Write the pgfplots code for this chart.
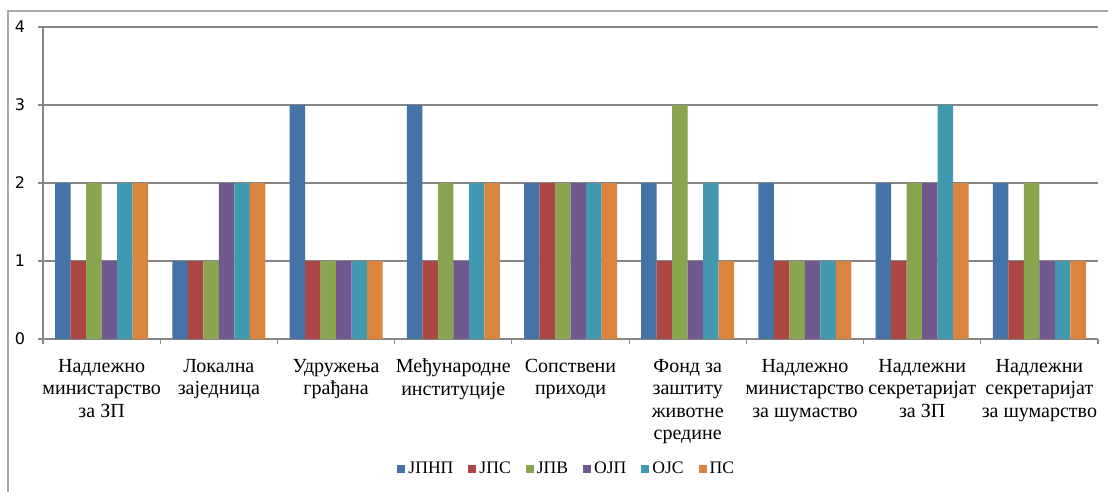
\documentclass[border=0pt]{standalone}
\usepackage{fontspec}
\setmainfont{Liberation Serif}
\newfontfamily\tickfont{DejaVu Sans}
\usepackage{pgfplots}
\pgfplotsset{compat=1.18}
\definecolor{c1}{HTML}{4572A7}
\definecolor{c2}{HTML}{AA4643}
\definecolor{c3}{HTML}{89A54E}
\definecolor{c4}{HTML}{71588F}
\definecolor{c5}{HTML}{4198AF}
\definecolor{c6}{HTML}{DB843D}
\definecolor{gridc}{HTML}{868686}
\begin{document}
\begin{tikzpicture}
\useasboundingbox (0,0) rectangle (554pt,-246pt);
\draw[gridc!70, line width=0.6pt] (4pt,-5.5pt) rectangle (600pt,-300pt);
\begin{axis}[
  at={(21.5pt,-169.5pt)}, anchor=south west,
  width=527.5pt, height=156pt, scale only axis,
  ybar=0pt, bar width=7.75pt,
  xmin=0.5, xmax=9.5, ymin=0, ymax=4,
  ytick={0,1,2,3,4},
  ymajorgrids, grid style={gridc, line width=0.6pt},
  axis x line*=bottom, axis y line*=left,
  axis line style={gridc, line width=0.6pt, -},
  tick style={gridc, line width=0.6pt},
  tick align=outside, major tick length=2.5pt, minor tick length=2.5pt,
  xtick={1,...,9},
  major x tick style={draw=none},
  minor xtick={0.5,1.5,...,9.5},
  xticklabels={
    {Надлежно\\министарство\\за ЗП},
    {Локална\\заједница},
    {Удружења\\грађана},
    {Међународне\\институције},
    {Сопствени\\приходи},
    {Фонд за\\заштиту\\животне\\средине},
    {Надлежно\\министарство\\за шумаство},
    {Надлежни\\секретаријат\\за ЗП},
    {Надлежни\\секретаријат\\за шумарство}},
  xticklabel style={align=center, font=\rmfamily\fontsize{10}{11.3}\selectfont, yshift=-4pt},
  yticklabel style={font=\tickfont\fontsize{8}{9}\selectfont, xshift=-3pt},
  /pgf/number format/assume math mode=true,
  legend style={at={(0.496,-0.417)}, anchor=center, draw=none, fill=none,
    legend columns=6, font=\rmfamily\fontsize{8.8}{11}\selectfont,
    /tikz/every odd column/.append style={column sep=1pt},
    /tikz/every even column/.append style={column sep=7pt},
    /tikz/every node/.append style={inner sep=0.5pt}},
  legend image code/.code={\fill[#1] (0pt,-2pt) rectangle (4pt,2pt);},
  legend cell align=left,
]
\addplot[fill=c1, draw=none] coordinates {(1,2) (2,1) (3,3) (4,3) (5,2) (6,2) (7,2) (8,2) (9,2)};
\addplot[fill=c2, draw=none] coordinates {(1,1) (2,1) (3,1) (4,1) (5,2) (6,1) (7,1) (8,1) (9,1)};
\addplot[fill=c3, draw=none] coordinates {(1,2) (2,1) (3,1) (4,2) (5,2) (6,3) (7,1) (8,2) (9,2)};
\addplot[fill=c4, draw=none] coordinates {(1,1) (2,2) (3,1) (4,1) (5,2) (6,1) (7,1) (8,2) (9,1)};
\addplot[fill=c5, draw=none] coordinates {(1,2) (2,2) (3,1) (4,2) (5,2) (6,2) (7,1) (8,3) (9,1)};
\addplot[fill=c6, draw=none] coordinates {(1,2) (2,2) (3,1) (4,2) (5,2) (6,1) (7,1) (8,2) (9,1)};
\legend{ЈПНП, ЈПС, ЈПВ, ОЈП, ОЈС, ПС}
\end{axis}
\end{tikzpicture}
\end{document}
